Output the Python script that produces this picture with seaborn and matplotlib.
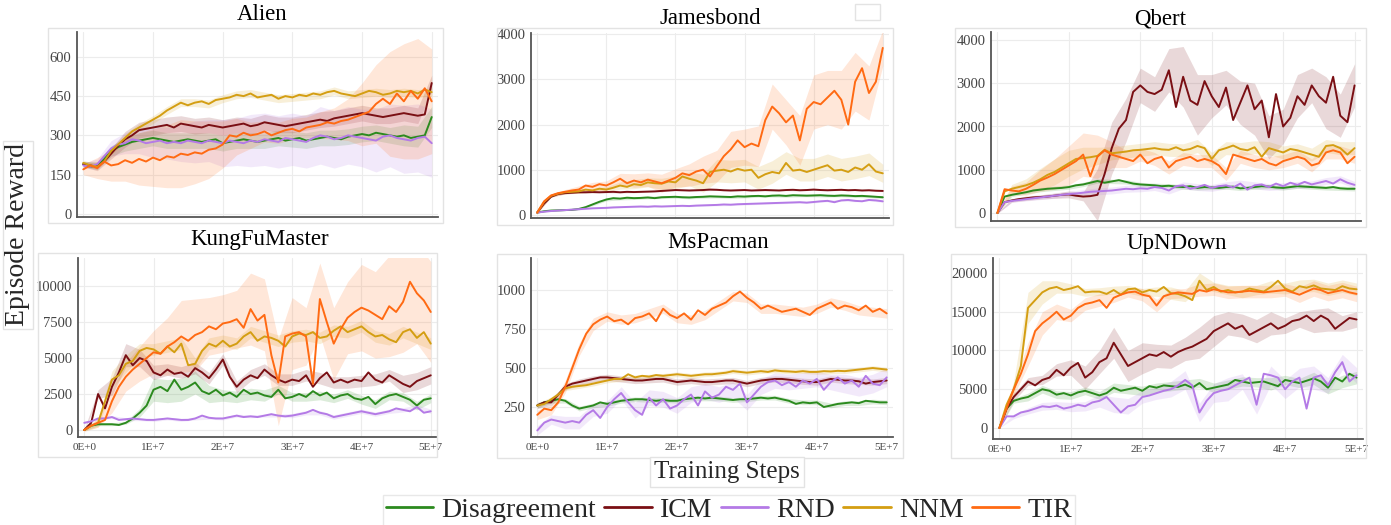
import matplotlib
matplotlib.use("Agg")
import matplotlib.pyplot as plt
from matplotlib.patches import Rectangle
from matplotlib.lines import Line2D
import numpy as np
import pandas as pd
import seaborn as sns

# ---------------- data ----------------
methods = ["Disagreement", "ICM", "RND", "NNM", "TIR"]
steps_millions = list(range(0, 51))          # x grid: 0 .. 50 (x 1E6 steps)
band_steps_millions = steps_millions[::2]    # band grid: every 2E6 steps
xtick_labels = ["0E+0", "1E+7", "2E+7", "3E+7", "4E+7", "5E+7"]

# Alien
alien_disagreement = [190,180,185,210,240,255,265,275,280,285, 290,285,280,275,280,285,280,275,280,285, 270,275,280,285,280,275,280,285,290,280, 285,290,280,285,290,295,290,285,295,300, 305,300,310,305,300,295,300,290,295,300,370]
alien_icm = [190,185,180,200,230,260,285,300,320,325, 330,335,340,330,345,340,335,330,340,335, 330,335,340,345,335,340,350,345,340,335, 340,345,350,355,360,355,365,370,375,380, 385,380,375,370,375,380,385,380,375,380,500]
alien_rnd = [185,180,190,220,250,265,270,285,280,270, 275,280,270,275,270,280,275,270,280,275, 270,280,275,270,280,275,285,280,275,290, 285,280,275,290,300,295,285,290,300,295, 290,285,280,295,300,290,285,280,290,295,270]
alien_nnm = [195,185,180,200,240,265,290,315,330,345, 360,375,395,410,425,415,425,430,420,435, 440,445,455,450,460,445,450,455,440,450, 445,455,450,460,455,465,470,460,455,450, 460,470,465,455,460,470,465,470,460,475,465]
alien_tir = [170,185,175,200,185,190,205,195,210,200, 215,205,220,215,230,225,235,230,245,250, 265,300,295,310,300,305,315,300,310,320, 325,315,330,335,340,350,345,355,360,370, 380,390,420,440,420,460,430,470,440,480,430]
alien_disagreement_band = [10,15,20,25,30,30,30,30,30,30,30,30,30,30,30,30,30,30,30,30,30,30,30,40,40,40]
alien_icm_band = [10,15,20,30,30,30,30,30,30,30,30,30,30,30,30,30,30,30,30,30,30,30,30,30,30,30]
alien_rnd_band = [10,20,30,40,50,60,60,70,80,80,90,90,100,100,100,100,100,110,110,110,110,120,120,130,130,130]
alien_nnm_band = [10,10,15,15,15,15,15,15,15,15,15,15,15,15,15,15,15,15,15,15,15,15,15,15,15,15]
alien_tir_band = [20,40,60,80,100,110,120,130,120,110,90,70,50,40,40,40,40,50,60,80,120,150,200,220,230,200]

# Jamesbond
jamesbond_disagreement = [50,80,95,100,105,110,130,170,230,290, 340,370,360,380,370,375,385,370,390,395, 400,390,385,395,400,410,405,400,395,410, 405,415,420,410,425,430,420,435,430,425, 430,435,425,420,430,425,415,420,410,400,390]
jamesbond_icm = [50,250,400,460,480,490,500,500,505,500, 505,510,500,510,505,510,515,520,530,540, 550,545,540,545,550,560,555,545,540,545, 550,540,545,550,545,540,550,555,545,550, 560,550,545,550,555,545,550,540,545,535,530]
jamesbond_rnd = [50,70,85,95,105,115,125,135,145,150, 155,165,170,175,180,185,180,190,185,190, 195,200,195,205,210,215,220,230,225,235, 240,245,250,255,260,265,270,275,280,270, 285,300,310,280,320,330,310,300,330,320,300]
jamesbond_nnm = [50,290,420,470,500,510,520,560,540,580, 560,600,650,620,680,660,720,700,690,740, 720,850,800,760,700,950,980,1000,960,1020, 980,1000,820,900,950,920,1150,980,1000,950, 1000,1050,1100,980,1000,950,1050,1000,1120,960,920]
jamesbond_tir = [50,300,430,480,510,540,560,650,620,680, 650,720,800,700,760,720,780,740,700,760, 820,920,880,960,1000,850,1080,1300,1450,1650, 1500,1580,1520,2100,2400,2250,2050,2200,1650,2350, 2500,2450,2600,2750,2550,2000,2950,3250,2700,2950,3700]
jamesbond_disagreement_band = [5,10,10,20,30,30,30,30,30,30,30,30,30,30,30,30,30,30,30,30,30,30,30,30,30,30]
jamesbond_icm_band = [5,10,15,15,15,15,15,15,15,15,15,15,15,15,15,15,15,15,15,15,15,15,15,15,15,15]
jamesbond_rnd_band = [5,10,10,15,15,15,15,15,15,15,15,15,20,20,20,20,20,20,20,20,20,20,20,20,20,20]
jamesbond_nnm_band = [10,20,30,40,50,60,80,100,100,120,140,150,200,250,250,250,250,250,250,250,250,250,250,250,250,200]
jamesbond_tir_band = [20,30,50,80,100,100,120,150,150,200,200,250,300,350,400,400,450,500,500,550,600,600,650,650,600,400]

# Qbert
qbert_disagreement = [0,380,420,450,480,520,540,560,570,580, 600,640,660,700,740,700,730,760,720,680, 660,650,640,620,630,610,600,620,580,600, 590,580,600,610,570,580,600,620,610,590, 580,600,620,610,600,590,580,600,570,560,560]
qbert_icm = [0,250,290,320,340,360,370,380,400,420, 430,400,380,390,420,900,1500,1950,2150,2800, 2950,2800,2750,2850,3300,2450,3150,2600,2500,3050, 2700,2450,2900,2150,2550,2950,2400,2600,1750,2750, 2000,2200,2700,2500,2950,2700,2550,3150,2250,2100,2950]
qbert_rnd = [0,250,280,300,320,340,360,380,400,420, 440,450,470,490,500,510,520,540,560,550, 570,560,600,580,520,620,640,560,600,650, 580,620,640,590,680,540,640,660,600,680, 620,700,650,720,660,700,740,680,780,700,650]
qbert_nnm = [0,500,560,600,640,700,780,880,950,1050, 1150,1250,1270,1290,1320,1460,1380,1400,1420,1450, 1460,1480,1500,1470,1460,1520,1450,1480,1550,1500, 1250,1450,1500,1560,1480,1450,1520,1300,1500,1450, 1400,1480,1450,1400,1350,1300,1550,1570,1500,1350,1500]
qbert_tir = [0,550,520,500,560,650,750,820,900,1000, 1100,1200,1350,850,1300,1450,1350,1300,1250,1200, 1350,1150,1250,1300,1050,1200,1250,1300,1200,1250, 1200,1100,900,1350,1300,1250,1200,1250,1150,1100, 1200,1250,1300,1250,1100,1150,1400,1450,1400,1150,1300]
qbert_disagreement_band = [10,40,40,50,50,50,50,50,50,50,50,50,50,50,50,50,50,50,50,50,50,50,50,50,50,50]
qbert_icm_band = [10,40,50,50,60,80,100,600,600,500,400,400,500,700,700,500,400,500,600,500,400,500,400,600,500,500]
qbert_rnd_band = [10,30,40,50,60,60,70,80,80,80,80,80,80,80,80,80,80,80,80,80,80,80,80,80,80,80]
qbert_nnm_band = [10,100,150,250,300,300,250,200,150,150,150,150,150,150,150,150,150,150,150,150,150,150,150,150,150,150]
qbert_tir_band = [10,100,150,250,350,450,500,500,300,200,150,150,150,150,150,150,150,150,150,150,150,150,150,150,150,150]

# KungFuMaster
kungfu_disagreement = [0,300,400,400,400,350,500,800,1200,1700, 2800,3000,2700,3500,2800,3000,3300,2700,2500,2800, 2400,2600,2300,2800,2500,2600,2400,2300,2800,2200, 2300,2500,2300,2700,2400,2600,2200,2400,2500,2200, 2100,2300,1800,2200,2400,2500,2300,2100,1700,2100,2200]
kungfu_icm = [0,500,2500,1500,3000,4000,5200,4500,5000,4800, 4000,3800,4200,3900,4000,3700,4300,4000,3600,4200, 4900,3700,3000,3500,3800,3600,4200,3800,3500,3300, 3500,3400,3800,3000,3600,4000,3300,3500,3300,3500, 3400,4000,3500,3300,3800,3500,3200,3000,3400,3600,3800]
kungfu_rnd = [500,600,800,800,900,700,750,800,750,700, 700,750,800,750,700,700,800,1000,850,800, 800,900,1000,900,950,900,1000,1100,1000,950, 1000,1100,1200,1400,1200,1100,900,1000,1100,1200, 1300,1200,1100,1200,1300,1500,1400,1300,1600,1200,1300]
kungfu_nnm = [0,300,500,2000,3500,3800,4600,4800,5500,5700, 5600,5300,5800,5400,6000,4500,4600,5500,6000,5800, 6200,5800,6000,6500,6800,6200,6500,6400,6200,5800, 6500,6700,6600,6800,6400,6500,6900,7200,6800,7000, 7200,6800,6500,6600,6300,6100,6800,7000,6400,6800,6000]
kungfu_tir = [0,300,500,700,2000,3000,3700,4200,4600,5000, 5400,5300,5800,6100,6500,6200,6600,6800,7200,7000, 7400,7500,7700,7100,8400,7600,8000,5200,3300,6500, 6700,6800,6500,3200,9100,7500,6000,7000,7800,8200, 8500,8300,8000,7700,8600,8200,8900,10300,9500,9000,8200]
kungfu_disagreement_band = [50,100,100,100,300,800,800,800,800,600,400,400,400,400,300,300,300,300,300,300,300,300,300,300,300,300]
kungfu_icm_band = [50,300,600,800,600,500,400,400,400,400,400,400,400,400,400,400,400,400,400,400,400,400,400,600,600,600]
kungfu_rnd_band = [50,100,100,100,100,100,100,100,100,100,100,100,100,100,100,150,150,150,150,150,150,150,150,150,150,150]
kungfu_nnm_band = [50,300,600,600,500,400,400,400,400,400,400,400,400,400,400,400,400,400,400,400,400,400,400,400,400,400]
kungfu_tir_band = [100,300,800,1000,1200,1500,2000,2500,2500,2000,2000,2000,2500,2500,3000,2500,2000,2500,2500,2500,3000,3000,3500,3500,3500,3500]

# MsPacman
mspacman_disagreement = [260,280,290,300,290,260,240,250,260,280, 270,280,290,295,300,300,295,290,295,290, 290,300,305,310,305,310,305,300,295,300, 300,305,310,305,310,300,290,270,280,275, 280,250,260,270,275,280,275,290,285,280,280]
mspacman_icm = [260,280,280,330,380,400,410,420,430,440, 440,435,430,425,420,420,425,430,430,420, 410,415,420,415,410,410,415,420,420,410, 400,410,420,425,430,430,425,420,415,410, 410,420,430,425,420,420,415,400,410,415,420]
mspacman_rnd = [100,150,170,160,150,160,150,200,230,180, 250,300,340,280,230,200,310,260,300,240, 260,300,330,260,350,310,330,380,360,400, 280,330,380,410,420,390,410,380,420,400, 430,360,410,440,400,420,380,450,400,390,440]
mspacman_nnm = [260,270,300,330,370,380,385,390,400,410, 420,430,430,460,440,450,445,455,450,455, 460,455,450,455,460,460,465,470,480,475, 470,475,480,475,485,480,478,475,480,475, 475,480,478,482,480,485,490,495,500,495,490]
mspacman_tir = [200,240,230,280,380,500,620,720,780,810, 830,800,810,780,820,830,850,800,880,840, 820,850,810,870,840,880,900,920,960,990, 950,920,880,900,880,860,870,880,860,840, 880,900,920,880,900,890,870,900,860,880,850]
mspacman_disagreement_band = [15,15,15,15,15,15,15,15,15,15,15,15,15,15,15,15,15,15,15,15,15,15,15,15,15,15]
mspacman_icm_band = [20,20,20,20,20,20,20,20,20,20,20,20,20,20,20,20,20,20,20,20,20,20,20,20,20,20]
mspacman_rnd_band = [30,30,40,40,40,40,40,50,50,50,50,50,50,50,50,50,50,50,50,50,50,50,60,60,60,60]
mspacman_nnm_band = [15,15,15,15,15,15,15,15,15,15,15,15,15,15,15,15,15,15,15,15,15,15,15,15,15,15]
mspacman_tir_band = [30,30,40,40,40,30,30,30,30,30,30,30,30,30,30,30,30,30,30,30,30,30,30,30,30,30]

# UpNDown
upndown_disagreement = [0,2500,3500,3800,4000,4500,5000,4800,4300,4500, 4200,4600,4800,4500,4200,4500,5200,4800,5000,5200, 4800,5400,5200,5500,5400,5300,5600,5200,5800,5000, 5200,5400,5600,6200,6000,5800,5900,6000,5700,5400, 6200,6000,5800,6100,6400,6000,5200,6500,6000,7000,6500]
upndown_icm = [0,2500,4000,5000,6000,5500,6200,6500,7500,6800, 7800,8400,6500,7200,8500,9000,11000,9500,8000,8500, 9000,9500,9300,9800,9200,9800,10200,10500,11000,11500, 12500,13000,13500,12800,13200,12000,12500,13000,13500,12800, 13200,13800,14000,14500,13800,14500,14000,12800,13500,14200,14000]
upndown_rnd = [0,1500,1500,2000,2200,2500,2800,2700,2900,2500, 2700,3000,2800,3300,3500,4000,3000,2000,2800,3000, 4000,4200,4500,4800,5000,5500,6200,5500,2000,3500, 4500,4800,5000,5500,6000,6500,3000,7000,6800,6500, 5000,6000,6500,2500,6500,6800,5500,7200,8500,6000,6800]
upndown_nnm = [0,3000,5000,8000,15500,16500,17500,18000,18200,17800, 18000,18300,17500,17600,17600,17300,17800,17200,17900,18000, 17500,17800,17600,18200,17400,17300,17000,16500,19000,17800, 18200,17600,17800,17500,17600,18000,17800,17600,18200,19000, 18000,17600,18300,18100,18400,18000,17900,17800,18300,18000,17900]
upndown_tir = [0,2500,5000,7000,9500,12500,13500,14200,15000,14000, 14500,15500,16000,16200,16500,15500,16800,17200,17500,17600, 17200,17000,15800,17000,17300,17500,17400,17300,17800,17600, 17900,17700,17500,17500,17600,17700,17600,17500,17600,17700, 17800,17500,17200,17600,18000,17800,17400,17600,17800,17500,17300]
upndown_disagreement_band = [0,300,500,500,500,500,500,500,600,600,600,600,600,600,600,600,600,600,600,800,600,600,800,800,800,800]
upndown_icm_band = [0,500,500,600,800,1000,1500,1500,2000,2000,2000,1500,1500,1500,2000,2000,1500,1500,1500,1500,1000,1000,1500,1500,1000,1000]
upndown_rnd_band = [0,300,400,500,500,600,600,800,1000,1000,800,800,1000,1200,1200,1200,1500,1000,1200,1200,1200,1200,1500,1000,1000,1000]
upndown_nnm_band = [0,1000,2000,1500,800,600,500,500,500,500,500,600,800,700,1000,600,600,800,600,800,700,800,800,800,800,800]
upndown_tir_band = [0,800,1500,1500,1000,800,800,800,600,600,800,800,600,600,800,800,800,800,800,800,800,1000,1000,1000,1000,1000]

# ---------------- assembly ----------------
series = {
    "Alien": [alien_disagreement, alien_icm, alien_rnd, alien_nnm, alien_tir],
    "Jamesbond": [jamesbond_disagreement, jamesbond_icm, jamesbond_rnd, jamesbond_nnm, jamesbond_tir],
    "Qbert": [qbert_disagreement, qbert_icm, qbert_rnd, qbert_nnm, qbert_tir],
    "KungFuMaster": [kungfu_disagreement, kungfu_icm, kungfu_rnd, kungfu_nnm, kungfu_tir],
    "MsPacman": [mspacman_disagreement, mspacman_icm, mspacman_rnd, mspacman_nnm, mspacman_tir],
    "UpNDown": [upndown_disagreement, upndown_icm, upndown_rnd, upndown_nnm, upndown_tir],
}
bands = {
    "Alien": [alien_disagreement_band, alien_icm_band, alien_rnd_band, alien_nnm_band, alien_tir_band],
    "Jamesbond": [jamesbond_disagreement_band, jamesbond_icm_band, jamesbond_rnd_band, jamesbond_nnm_band, jamesbond_tir_band],
    "Qbert": [qbert_disagreement_band, qbert_icm_band, qbert_rnd_band, qbert_nnm_band, qbert_tir_band],
    "KungFuMaster": [kungfu_disagreement_band, kungfu_icm_band, kungfu_rnd_band, kungfu_nnm_band, kungfu_tir_band],
    "MsPacman": [mspacman_disagreement_band, mspacman_icm_band, mspacman_rnd_band, mspacman_nnm_band, mspacman_tir_band],
    "UpNDown": [upndown_disagreement_band, upndown_icm_band, upndown_rnd_band, upndown_nnm_band, upndown_tir_band],
}

palette = {
    "Disagreement": "#2b8a1e",
    "ICM": "#7a0f14",
    "RND": "#b47ae6",
    "NNM": "#d49e12",
    "TIR": "#ff6a13",
}

sns.set_style("white")
plt.rcParams["font.family"] = ["Liberation Serif", "DejaVu Serif"]

W, H = 1391, 525
fig = plt.figure(figsize=(W / 100, H / 100), dpi=100)
fig.patch.set_facecolor("white")

# layout (pixels): axes l,t,r,b ; panel box l,t,r,b ; title center x,y ; ylim ; yticks ; show x labels
panels = [
    ("Alien", (77, 32, 438, 217), (48, 28, 443, 223), (262, 15), (-12, 695), [0, 150, 300, 450, 600], False),
    ("Jamesbond", (531, 33, 889, 218), (497, 28, 893, 225), (710, 19), (-70, 4030), [0, 1000, 2000, 3000, 4000], False),
    ("Qbert", (991, 32, 1361, 221), (955, 28, 1366, 227), (1160, 19), (-185, 4185), [0, 1000, 2000, 3000, 4000], False),
    ("KungFuMaster", (78, 258, 437, 437), (38, 253, 437, 457), (260, 240), (-486, 11950), [0, 2500, 5000, 7500, 10000], True),
    ("MsPacman", (531, 258, 893, 437), (497, 254, 903, 458), (718, 243), (58, 1205), [250, 500, 750, 1000], True),
    ("UpNDown", (993, 258, 1363, 439), (951, 254, 1366, 458), (1177, 243), (-1420, 21935), [0, 5000, 10000, 15000, 20000], True),
]

box_color = "#e3e3e3"
for game, (l, t, r, b), (bl, bt, br, bb), (tx, ty), ylim, yticks, showx in panels:
    fig.add_artist(Rectangle((bl / W, 1 - bb / H), (br - bl) / W, (bb - bt) / H,
                             transform=fig.transFigure, fill=False, edgecolor=box_color, lw=1.0))
    ax = fig.add_axes([l / W, 1 - b / H, (r - l) / W, (b - t) / H])
    ax.set_facecolor("white")
    rows = []
    for m, vals in zip(methods, series[game]):
        for s, v in zip(steps_millions, vals):
            rows.append({"step": s * 1e6, "reward": v, "method": m})
    df = pd.DataFrame(rows)
    xs = np.array(steps_millions) * 1e6
    xb = np.array(band_steps_millions) * 1e6
    for m, vals, bw in zip(methods, series[game], bands[game]):
        mv = np.array(vals, dtype=float)[::2]
        bw = np.array(bw, dtype=float)
        ax.fill_between(xb, mv - bw, mv + bw, color=palette[m], alpha=0.16, lw=0, zorder=1)
    sns.lineplot(data=df, x="step", y="reward", hue="method", hue_order=methods,
                 palette=palette, errorbar=None, legend=False, lw=1.4, ax=ax, zorder=3)
    ax.set_xlim(-0.9e6, 5.09e7)
    ax.set_ylim(*ylim)
    ax.set_yticks(yticks)
    ax.set_xticks([0, 1e7, 2e7, 3e7, 4e7, 5e7])
    ax.set_yticklabels([str(v) for v in yticks], fontsize=10.5, color="#444444")
    if showx:
        ax.set_xticklabels(xtick_labels, fontsize=8, color="#444444")
    else:
        ax.set_xticklabels([])
    ax.tick_params(axis="both", length=0, pad=4)
    ax.grid(True, color="#ececec", lw=0.8)
    ax.set_axisbelow(True)
    for sp in ["top", "right"]:
        ax.spines[sp].set_visible(False)
    for sp in ["left", "bottom"]:
        ax.spines[sp].set_color("#555555")
        ax.spines[sp].set_linewidth(1.3)
    ax.set_xlabel("")
    ax.set_ylabel("")
    fig.text(tx / W, 1 - ty / H, game, ha="center", va="center", fontsize=16.5, color="black")

# stray empty legend box near Jamesbond title
fig.add_artist(Rectangle((855 / W, 1 - 20 / H), 25 / W, 16 / H, transform=fig.transFigure,
                         fill=False, edgecolor=box_color, lw=1.0))

# axis labels
fig.text(18 / W, 1 - 235 / H, "Episode Reward", rotation=90, ha="center", va="center", fontsize=20,
         bbox=dict(boxstyle="square,pad=0.1", fc="white", ec=box_color, lw=1.0))
fig.text(727 / W, 1 - 472 / H, "Training Steps", ha="center", va="center", fontsize=18,
         bbox=dict(boxstyle="square,pad=0.15", fc="white", ec=box_color, lw=1.0))

handles = [Line2D([0], [0], color=palette[m], lw=2) for m in methods]
leg = fig.legend(handles, methods, loc="center", bbox_to_anchor=(729 / W, 1 - 510 / H), ncol=5,
                 fontsize=20, frameon=True, fancybox=False, handlelength=1.7, handletextpad=0.3,
                 columnspacing=0.3, borderpad=0.1, borderaxespad=0)
leg.get_frame().set_edgecolor(box_color)
leg.get_frame().set_linewidth(1.0)

fig.savefig("out.png", dpi=100, facecolor="white")
